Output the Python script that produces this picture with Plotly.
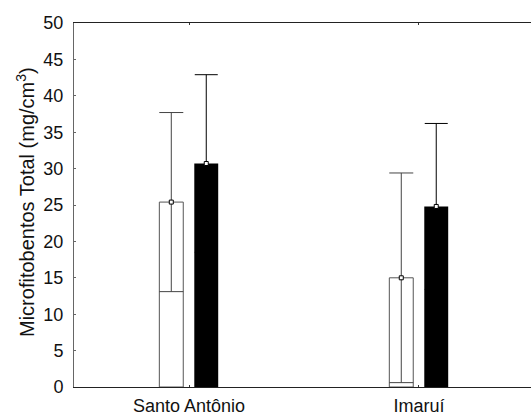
import plotly.graph_objects as go

categories = ["Santo Antônio", "Imaruí"]
white_mean = [25.4, 15.0]
white_sd = [12.3, 14.4]
black_mean = [30.7, 24.8]
black_sd = [12.2, 11.4]
yticks = [0, 5, 10, 15, 20, 25, 30, 35, 40, 45, 50]

idx = list(range(len(categories)))
W = 0.104
off_w = -0.129
off_b = 0.023
xw = [i + off_w + W / 2 for i in idx]
xb = [i + off_b + W / 2 for i in idx]

fig = go.Figure()
fig.add_trace(go.Bar(
    x=idx, y=white_mean, width=W, offset=off_w,
    marker=dict(color="white", line=dict(color="#555555", width=1)),
    error_y=dict(type="data", array=white_sd, symmetric=True,
                 color="#444444", thickness=1, width=12),
    showlegend=False,
))
fig.add_trace(go.Bar(
    x=idx, y=black_mean, width=W, offset=off_b,
    marker=dict(color="black", line=dict(color="black", width=0)),
    error_y=dict(type="data", array=black_sd, symmetric=True,
                 color="black", thickness=1, width=11.5),
    showlegend=False,
))
fig.add_trace(go.Scatter(
    x=xw + xb, y=white_mean + black_mean, mode="markers",
    marker=dict(symbol="square", size=4, color="white",
                line=dict(color="black", width=1)),
    showlegend=False, cliponaxis=False,
))

fig.add_annotation(
    text="Microfitobentos Total (mg/cm<sup>3</sup>)",
    xref="paper", yref="paper", x=0, y=0.5, xshift=-49, yshift=3,
    xanchor="center", yanchor="middle", textangle=-90, showarrow=False,
    font=dict(size=20, color="#111111"),
)

fig.update_layout(
    width=531, height=414,
    margin=dict(l=74, r=0, t=23, b=27),
    paper_bgcolor="white", plot_bgcolor="white",
    font=dict(family="Liberation Sans, Arial, sans-serif", size=18, color="#111111"),
    barmode="overlay",
    xaxis=dict(
        range=[-0.5, 1.487], tickvals=idx, ticktext=categories,
        showline=True, linecolor="#222222", linewidth=1, mirror="ticks",
        ticks="inside", ticklen=2, tickcolor="#333333",
        showgrid=False, zeroline=False, tickfont=dict(size=18),
        automargin=False, ticklabelstandoff=2,
    ),
    yaxis=dict(
        range=[0, 50], tickvals=yticks,
        showline=True, linecolor="#666666", linewidth=1,
        ticks="inside", ticklen=2, tickcolor="#666666",
        showgrid=False, zeroline=False, tickfont=dict(size=18),
        ticklabelstandoff=6, automargin=False,
    ),
)

fig.write_html(
    "out.html",
    config={"displayModeBar": False},
    post_script="document.body.style.margin='0';document.body.style.overflow='hidden';",
)
